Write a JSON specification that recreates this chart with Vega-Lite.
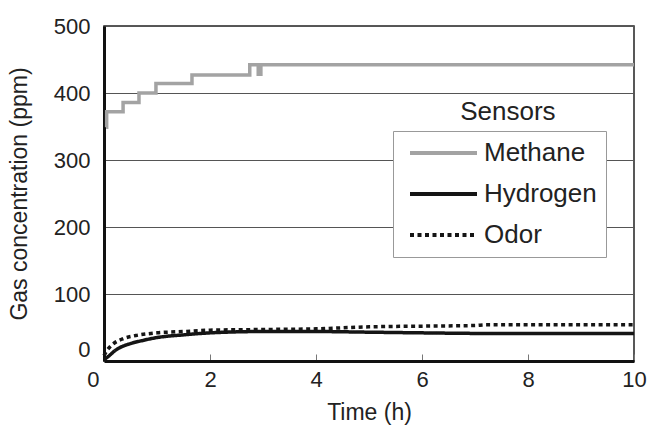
{
  "$schema": "https://vega.github.io/schema/vega-lite/v6.json",
  "width": 530,
  "height": 335,
  "autosize": {"type": "none"},
  "padding": {"left": 104, "top": 26, "right": 18, "bottom": 64},
  "background": "white",
  "config": {
    "font": "Liberation Sans",
    "view": {"stroke": "#222", "strokeWidth": 1.5},
    "axis": {"labelFont": "Liberation Sans", "titleFont": "Liberation Sans", "labelColor": "#222", "titleColor": "#222", "titleFontWeight": "normal", "labelFontSize": 22, "titleFontSize": 23}
  },
  "data": {"values": [
    {"series": "Methane", "t": 0.04, "v": 349},
    {"series": "Methane", "t": 0.05, "v": 372},
    {"series": "Methane", "t": 0.36, "v": 386},
    {"series": "Methane", "t": 0.66, "v": 400},
    {"series": "Methane", "t": 0.98, "v": 414},
    {"series": "Methane", "t": 1.66, "v": 427},
    {"series": "Methane", "t": 2.75, "v": 442},
    {"series": "Methane", "t": 2.91, "v": 428},
    {"series": "Methane", "t": 2.96, "v": 442},
    {"series": "Methane", "t": 10, "v": 442},
    {"series": "Hydrogen", "t": 0, "v": 2},
    {"series": "Hydrogen", "t": 0.1, "v": 8},
    {"series": "Hydrogen", "t": 0.2, "v": 15},
    {"series": "Hydrogen", "t": 0.3, "v": 20},
    {"series": "Hydrogen", "t": 0.5, "v": 26},
    {"series": "Hydrogen", "t": 0.75, "v": 31},
    {"series": "Hydrogen", "t": 1, "v": 35},
    {"series": "Hydrogen", "t": 1.5, "v": 39},
    {"series": "Hydrogen", "t": 2, "v": 42},
    {"series": "Hydrogen", "t": 3, "v": 44},
    {"series": "Hydrogen", "t": 4, "v": 44},
    {"series": "Hydrogen", "t": 5, "v": 43},
    {"series": "Hydrogen", "t": 6, "v": 42},
    {"series": "Hydrogen", "t": 7.5, "v": 41},
    {"series": "Hydrogen", "t": 10, "v": 41},
    {"series": "Odor", "t": 0, "v": 8},
    {"series": "Odor", "t": 0.05, "v": 15},
    {"series": "Odor", "t": 0.15, "v": 24},
    {"series": "Odor", "t": 0.35, "v": 33},
    {"series": "Odor", "t": 0.6, "v": 38},
    {"series": "Odor", "t": 1, "v": 42},
    {"series": "Odor", "t": 1.5, "v": 44},
    {"series": "Odor", "t": 2, "v": 46},
    {"series": "Odor", "t": 3, "v": 47},
    {"series": "Odor", "t": 4, "v": 48},
    {"series": "Odor", "t": 5, "v": 51},
    {"series": "Odor", "t": 6, "v": 52},
    {"series": "Odor", "t": 7, "v": 53},
    {"series": "Odor", "t": 7.2, "v": 54},
    {"series": "Odor", "t": 10, "v": 54}
  ]},
  "layer": [
    {
      "transform": [{"filter": "datum.series === 'Methane'"}],
      "mark": {"type": "line", "interpolate": "step-after", "strokeWidth": 3.5, "color": "#a3a3a3"},
      "encoding": {
        "x": {"field": "t", "type": "quantitative", "scale": {"domain": [0, 10]},
          "axis": {"title": "Time (h)", "values": [0, 2, 4, 6, 8, 10], "grid": false, "domainColor": "#111", "domainWidth": 3, "tickSize": -7, "tickColor": "#777", "tickWidth": 1, "labelFlush": false, "labelAlign": {"condition": {"test": "datum.value === 0", "value": "right"}, "value": "center"}, "labelOffset": {"condition": {"test": "datum.value === 0", "value": -5}, "value": 0}, "labelPadding": 15, "titlePadding": 11}},
        "y": {"field": "v", "type": "quantitative", "scale": {"domain": [0, 500]},
          "axis": {"title": "Gas concentration (ppm)", "values": [0, 100, 200, 300, 400, 500], "gridColor": "#555", "gridWidth": 1, "gridOpacity": 1, "domainColor": "#111", "domainWidth": 3, "ticks": false, "labelFlush": false, "labelBaseline": {"condition": {"test": "datum.value === 0", "value": "bottom"}, "value": "middle"}, "labelPadding": 14, "titlePadding": 22}},
        "color": {"field": "series", "type": "nominal", "scale": {"domain": ["Methane", "Hydrogen", "Odor"], "range": ["#a3a3a3", "#151515", "#151515"]},
          "legend": {"title": null, "orient": "none", "legendX": 289, "legendY": 105, "fillColor": "white", "strokeColor": "#999", "padding": 9, "labelFontSize": 26, "labelColor": "#222", "symbolType": "M-0.5,0H6.2", "symbolSize": 400, "symbolStrokeWidth": 4, "rowPadding": 15, "labelOffset": 56}},
        "strokeDash": {"field": "series", "type": "nominal", "scale": {"domain": ["Methane", "Hydrogen", "Odor"], "range": [[1, 0], [1, 0], [4, 3.5]]}, "legend": null}
      }
    },
    {
      "transform": [{"filter": "datum.series !== 'Methane'"}],
      "mark": {"type": "line", "interpolate": "monotone", "strokeWidth": 3.5},
      "encoding": {
        "x": {"field": "t", "type": "quantitative"},
        "y": {"field": "v", "type": "quantitative"},
        "color": {"field": "series", "type": "nominal"},
        "strokeDash": {"field": "series", "type": "nominal"}
      }
    },
    {
      "data": {"values": [{}]},
      "mark": {"type": "text", "fontSize": 26, "color": "#222", "font": "Liberation Sans"},
      "encoding": {
        "x": {"datum": 7.62},
        "y": {"datum": 372},
        "text": {"value": "Sensors"}
      }
    }
  ]
}
